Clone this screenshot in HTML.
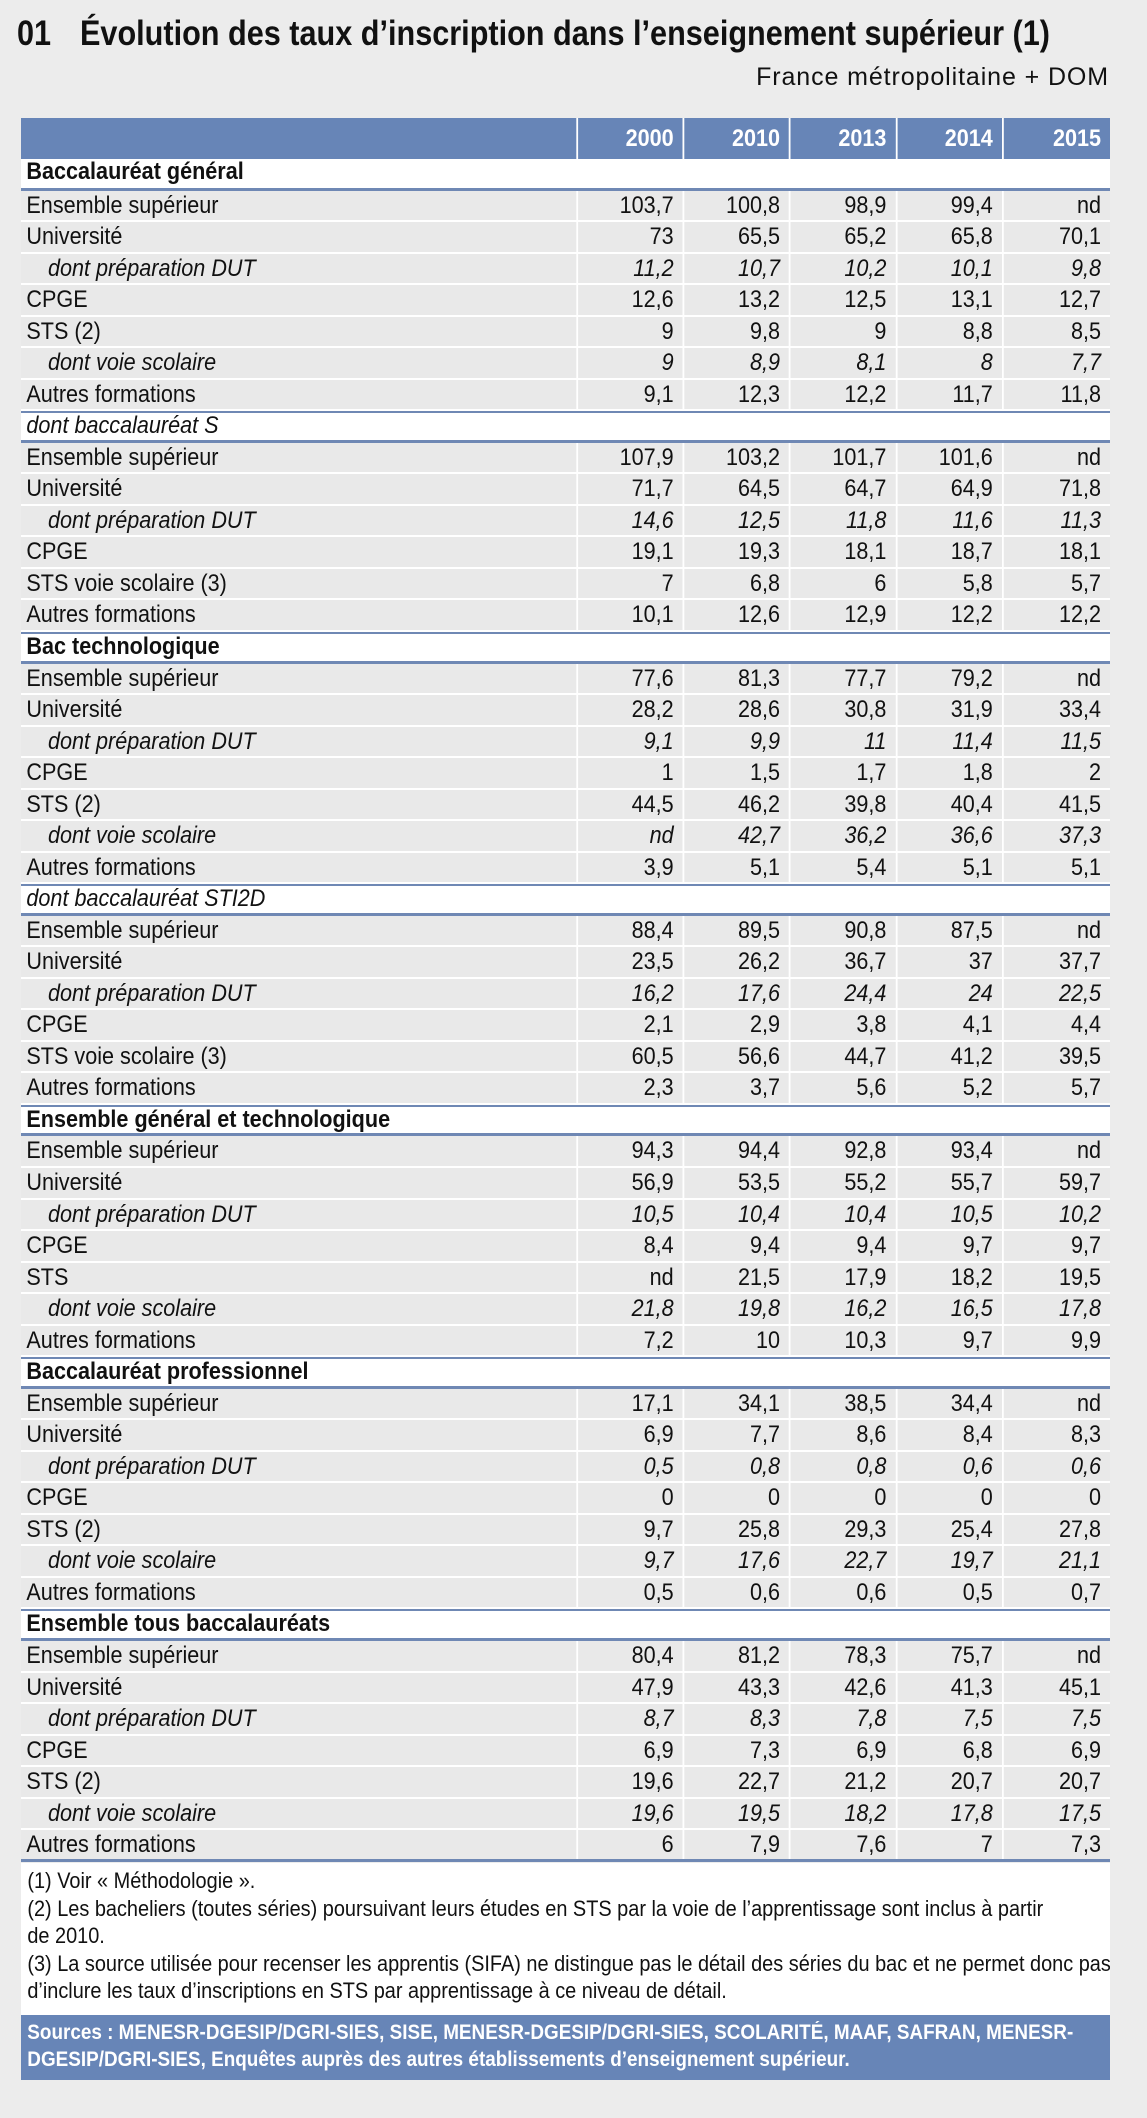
<!DOCTYPE html>
<html><head><meta charset="utf-8">
<style>
*{margin:0;padding:0;box-sizing:border-box}
body{width:1147px;height:2118px;background:#ececec;font-family:"Liberation Sans",sans-serif;color:#111;position:relative;overflow:hidden}
.t{position:absolute;left:17px;top:14px;font-size:35px;font-weight:bold;white-space:nowrap;transform:scaleX(0.875);transform-origin:0 0}
.t span{display:inline-block;width:72px}
.st{position:absolute;right:38px;top:63px;font-size:25px;white-space:nowrap;letter-spacing:0.9px}
.tb{position:absolute;left:21px;top:118px;width:1210px;transform:scaleX(0.9);transform-origin:0 0}
.row{display:flex;height:31.54px;background:#e9e9e9;border-bottom:2px solid #fff;font-size:24px;line-height:29px}
.row div{border-right:2px solid #fff;text-align:right;padding-right:10px;width:118.2px}
.row div:first-child{width:619px;text-align:left;padding-left:6px}
.row div:last-child{border-right:none;flex:1}
.hd{height:41px;background:#6785b7;color:#fff;font-weight:bold;border-bottom:none;line-height:42px}
.hd div{border-right:2px solid #fff}
.s{background:#fff;border-top:2px solid #6f88b4;border-bottom:3px solid #6f88b4;font-weight:bold;line-height:26px}
.s div{border-right:none}
.first{border-top:none}
.si{font-weight:normal;font-style:italic}
.d{font-style:italic}
.d div:first-child{padding-left:30px}
.last{border-bottom:3px solid #6f88b4}
.fn{position:absolute;left:21px;top:1863px;width:1089px;height:152px;background:#fff;overflow:hidden}
.fn div{width:1200px;transform:scaleX(0.905);transform-origin:0 0;padding:4px 7px;font-size:22px;line-height:27.5px;white-space:nowrap}
.src{position:absolute;left:21px;top:2015px;width:1089px;height:65px;background:#6785b7;overflow:hidden}
.src div{width:1210px;transform:scaleX(0.9);transform-origin:0 0;color:#fff;font-weight:bold;padding:4px 7px;font-size:21px;line-height:27px;white-space:nowrap}
</style></head><body>
<div class="t"><span>01</span>Évolution des taux d’inscription dans l’enseignement supérieur (1)</div>
<div class="st">France métropolitaine + DOM</div>
<div class="tb">
<div class="row hd"><div></div><div>2000</div><div>2010</div><div>2013</div><div>2014</div><div>2015</div></div>
<div class="row s first"><div>Baccalauréat général</div></div>
<div class="row"><div>Ensemble supérieur</div><div>103,7</div><div>100,8</div><div>98,9</div><div>99,4</div><div>nd</div></div>
<div class="row"><div>Université</div><div>73</div><div>65,5</div><div>65,2</div><div>65,8</div><div>70,1</div></div>
<div class="row d"><div>dont préparation DUT</div><div>11,2</div><div>10,7</div><div>10,2</div><div>10,1</div><div>9,8</div></div>
<div class="row"><div>CPGE</div><div>12,6</div><div>13,2</div><div>12,5</div><div>13,1</div><div>12,7</div></div>
<div class="row"><div>STS (2)</div><div>9</div><div>9,8</div><div>9</div><div>8,8</div><div>8,5</div></div>
<div class="row d"><div>dont voie scolaire</div><div>9</div><div>8,9</div><div>8,1</div><div>8</div><div>7,7</div></div>
<div class="row"><div>Autres formations</div><div>9,1</div><div>12,3</div><div>12,2</div><div>11,7</div><div>11,8</div></div>
<div class="row s si"><div>dont baccalauréat S</div></div>
<div class="row"><div>Ensemble supérieur</div><div>107,9</div><div>103,2</div><div>101,7</div><div>101,6</div><div>nd</div></div>
<div class="row"><div>Université</div><div>71,7</div><div>64,5</div><div>64,7</div><div>64,9</div><div>71,8</div></div>
<div class="row d"><div>dont préparation DUT</div><div>14,6</div><div>12,5</div><div>11,8</div><div>11,6</div><div>11,3</div></div>
<div class="row"><div>CPGE</div><div>19,1</div><div>19,3</div><div>18,1</div><div>18,7</div><div>18,1</div></div>
<div class="row"><div>STS voie scolaire (3)</div><div>7</div><div>6,8</div><div>6</div><div>5,8</div><div>5,7</div></div>
<div class="row"><div>Autres formations</div><div>10,1</div><div>12,6</div><div>12,9</div><div>12,2</div><div>12,2</div></div>
<div class="row s"><div>Bac technologique</div></div>
<div class="row"><div>Ensemble supérieur</div><div>77,6</div><div>81,3</div><div>77,7</div><div>79,2</div><div>nd</div></div>
<div class="row"><div>Université</div><div>28,2</div><div>28,6</div><div>30,8</div><div>31,9</div><div>33,4</div></div>
<div class="row d"><div>dont préparation DUT</div><div>9,1</div><div>9,9</div><div>11</div><div>11,4</div><div>11,5</div></div>
<div class="row"><div>CPGE</div><div>1</div><div>1,5</div><div>1,7</div><div>1,8</div><div>2</div></div>
<div class="row"><div>STS (2)</div><div>44,5</div><div>46,2</div><div>39,8</div><div>40,4</div><div>41,5</div></div>
<div class="row d"><div>dont voie scolaire</div><div>nd</div><div>42,7</div><div>36,2</div><div>36,6</div><div>37,3</div></div>
<div class="row"><div>Autres formations</div><div>3,9</div><div>5,1</div><div>5,4</div><div>5,1</div><div>5,1</div></div>
<div class="row s si"><div>dont baccalauréat STI2D</div></div>
<div class="row"><div>Ensemble supérieur</div><div>88,4</div><div>89,5</div><div>90,8</div><div>87,5</div><div>nd</div></div>
<div class="row"><div>Université</div><div>23,5</div><div>26,2</div><div>36,7</div><div>37</div><div>37,7</div></div>
<div class="row d"><div>dont préparation DUT</div><div>16,2</div><div>17,6</div><div>24,4</div><div>24</div><div>22,5</div></div>
<div class="row"><div>CPGE</div><div>2,1</div><div>2,9</div><div>3,8</div><div>4,1</div><div>4,4</div></div>
<div class="row"><div>STS voie scolaire (3)</div><div>60,5</div><div>56,6</div><div>44,7</div><div>41,2</div><div>39,5</div></div>
<div class="row"><div>Autres formations</div><div>2,3</div><div>3,7</div><div>5,6</div><div>5,2</div><div>5,7</div></div>
<div class="row s"><div>Ensemble général et technologique</div></div>
<div class="row"><div>Ensemble supérieur</div><div>94,3</div><div>94,4</div><div>92,8</div><div>93,4</div><div>nd</div></div>
<div class="row"><div>Université</div><div>56,9</div><div>53,5</div><div>55,2</div><div>55,7</div><div>59,7</div></div>
<div class="row d"><div>dont préparation DUT</div><div>10,5</div><div>10,4</div><div>10,4</div><div>10,5</div><div>10,2</div></div>
<div class="row"><div>CPGE</div><div>8,4</div><div>9,4</div><div>9,4</div><div>9,7</div><div>9,7</div></div>
<div class="row"><div>STS</div><div>nd</div><div>21,5</div><div>17,9</div><div>18,2</div><div>19,5</div></div>
<div class="row d"><div>dont voie scolaire</div><div>21,8</div><div>19,8</div><div>16,2</div><div>16,5</div><div>17,8</div></div>
<div class="row"><div>Autres formations</div><div>7,2</div><div>10</div><div>10,3</div><div>9,7</div><div>9,9</div></div>
<div class="row s"><div>Baccalauréat professionnel</div></div>
<div class="row"><div>Ensemble supérieur</div><div>17,1</div><div>34,1</div><div>38,5</div><div>34,4</div><div>nd</div></div>
<div class="row"><div>Université</div><div>6,9</div><div>7,7</div><div>8,6</div><div>8,4</div><div>8,3</div></div>
<div class="row d"><div>dont préparation DUT</div><div>0,5</div><div>0,8</div><div>0,8</div><div>0,6</div><div>0,6</div></div>
<div class="row"><div>CPGE</div><div>0</div><div>0</div><div>0</div><div>0</div><div>0</div></div>
<div class="row"><div>STS (2)</div><div>9,7</div><div>25,8</div><div>29,3</div><div>25,4</div><div>27,8</div></div>
<div class="row d"><div>dont voie scolaire</div><div>9,7</div><div>17,6</div><div>22,7</div><div>19,7</div><div>21,1</div></div>
<div class="row"><div>Autres formations</div><div>0,5</div><div>0,6</div><div>0,6</div><div>0,5</div><div>0,7</div></div>
<div class="row s"><div>Ensemble tous baccalauréats</div></div>
<div class="row"><div>Ensemble supérieur</div><div>80,4</div><div>81,2</div><div>78,3</div><div>75,7</div><div>nd</div></div>
<div class="row"><div>Université</div><div>47,9</div><div>43,3</div><div>42,6</div><div>41,3</div><div>45,1</div></div>
<div class="row d"><div>dont préparation DUT</div><div>8,7</div><div>8,3</div><div>7,8</div><div>7,5</div><div>7,5</div></div>
<div class="row"><div>CPGE</div><div>6,9</div><div>7,3</div><div>6,9</div><div>6,8</div><div>6,9</div></div>
<div class="row"><div>STS (2)</div><div>19,6</div><div>22,7</div><div>21,2</div><div>20,7</div><div>20,7</div></div>
<div class="row d"><div>dont voie scolaire</div><div>19,6</div><div>19,5</div><div>18,2</div><div>17,8</div><div>17,5</div></div>
<div class="row last"><div>Autres formations</div><div>6</div><div>7,9</div><div>7,6</div><div>7</div><div>7,3</div></div>
</div>
<div class="fn"><div>(1) Voir « Méthodologie ».<br>(2) Les bacheliers (toutes séries) poursuivant leurs études en STS par la voie de l’apprentissage sont inclus à partir<br>de 2010.<br>(3) La source utilisée pour recenser les apprentis (SIFA) ne distingue pas le détail des séries du bac et ne permet donc pas<br>d’inclure les taux d’inscriptions en STS par apprentissage à ce niveau de détail.</div></div>
<div class="src"><div>Sources : MENESR-DGESIP/DGRI-SIES, SISE, MENESR-DGESIP/DGRI-SIES, SCOLARITÉ, MAAF, SAFRAN, MENESR-<br>DGESIP/DGRI-SIES, Enquêtes auprès des autres établissements d’enseignement supérieur.</div></div>
</body></html>
